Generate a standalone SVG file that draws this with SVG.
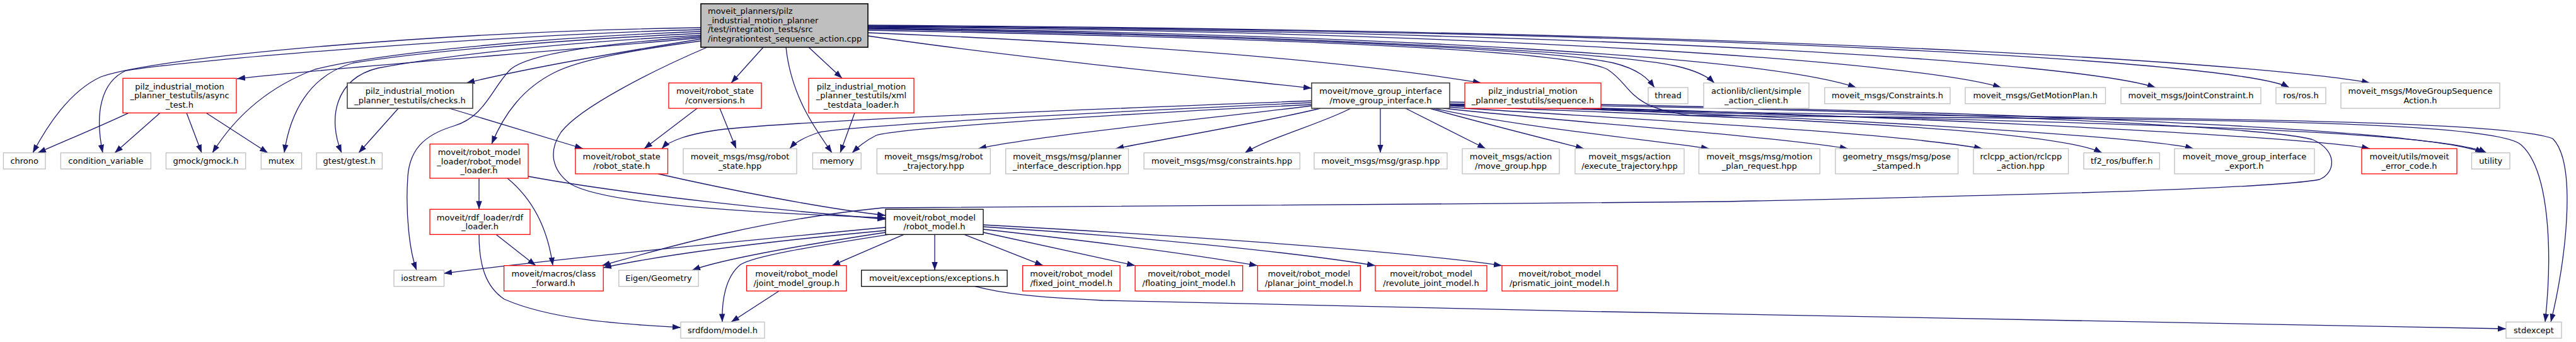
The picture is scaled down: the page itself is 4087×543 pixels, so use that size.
<svg xmlns="http://www.w3.org/2000/svg" width="4087" height="543" viewBox="0 0 4087 543">
<style>
rect{fill:#fff;stroke-width:1.3}
.k rect{stroke:#000}
.d rect{stroke:#404040;stroke-width:1.6}
.r rect{stroke:#ff0000}
.g rect{stroke:#bfbfbf}
.m rect{fill:#bfbfbf;stroke:#000;stroke-width:1.6}
text{font-family:"DejaVu Sans",sans-serif;font-size:13px;fill:#000;text-anchor:middle}
#edges path{fill:none;stroke:#191970;stroke-width:1.3;marker-end:url(#a)}
</style>
<defs>
<marker id="a" markerUnits="userSpaceOnUse" markerWidth="14" markerHeight="10" refX="13" refY="5" orient="auto"><path d="M0,0.3 L13,5 L0,9.7 z" fill="#191970" stroke="none"/></marker>
</defs>
<rect width="4087" height="543" fill="#fff" stroke="none"/>
<g id="edges">
<path d="M1112,44 C700,50 250,90 160,122 C110,145 75,200 52,242.7"/>
<path d="M1112,47 C800,55 300,95 200,112 C160,130 150,180 163,242.7"/>
<path d="M1112,60 C900,80 500,110 376,125"/>
<path d="M1112,50 C850,60 600,85 500,110 C420,140 370,190 337,242.7"/>
<path d="M1112,53 C850,65 650,85 560,100 C490,120 460,180 451,242.7"/>
<path d="M1112,56 C850,70 700,90 600,108 C530,125 520,190 542,242.7"/>
<path d="M1112,62 C1000,80 850,105 740,131.7"/>
<path d="M1112,58 C950,70 840,85 810,110 C780,140 770,185 720,200 C670,215 650,240 647,280 C643,340 650,400 661,429"/>
<path d="M1112,65 C1000,80 920,95 880,115 C830,140 800,180 780,228.7"/>
<path d="M1122,75 C1040,110 920,170 890,210 C870,240 875,270 905,292 C960,325 1200,338 1405,346"/>
<path d="M1211,75 L1160,131.7"/>
<path d="M1247,75 C1255,150 1290,200 1320,242.7"/>
<path d="M1283,75 L1336,124.3"/>
<path d="M1377,57 C1600,90 1900,120 2081,140"/>
<path d="M1377,52 C1700,65 2100,90 2350,131.7"/>
<path d="M1377,46 C1900,55 2450,75 2560,100 C2600,110 2615,125 2625,139"/>
<path d="M1377,45 C2000,55 2550,80 2660,105 C2690,112 2710,122 2720,131.7"/>
<path d="M1377,44 C2200,55 2800,90 2945,139"/>
<path d="M1377,43 C2400,50 3050,100 3175,139"/>
<path d="M1377,42 C2600,50 3300,100 3420,139"/>
<path d="M1377,41 C2800,50 3560,100 3632,139"/>
<path d="M1377,40 C3000,50 3650,110 3760,131.7"/>
<path d="M1377,48 C1900,58 2480,75 2550,110 C2590,135 2580,170 2680,183 C3300,190 3950,185 4000,230 C4045,270 4050,400 4038,511.3"/>
<path d="M204,179.3 C160,200 100,225 60,242.7"/>
<path d="M254,179.3 L182,242.7"/>
<path d="M296,179.3 L320,242.7"/>
<path d="M327,179.3 L425,242.7"/>
<path d="M632,172 L569,242.7"/>
<path d="M713,172 L925,236"/>
<path d="M1106,172 L1022,236"/>
<path d="M1142,172 L1168,236"/>
<path d="M1356,179.3 L1333,242.7"/>
<path d="M2081,160 C1700,175 1300,190 1150,205 C1090,212 1060,225 1050,236"/>
<path d="M2081,163 C1700,180 1350,200 1300,210 C1275,218 1260,228 1253,236"/>
<path d="M2081,166 C1700,185 1420,205 1390,215 C1370,225 1360,235 1352,242.7"/>
<path d="M2081,168 C1900,190 1650,215 1552,236"/>
<path d="M2095,172 C2000,195 1850,220 1770,236"/>
<path d="M2143,172 C2100,195 2010,220 1975,242.7"/>
<path d="M2190,172 L2190,242.7"/>
<path d="M2230,172 L2357,236"/>
<path d="M2268,172 C2350,195 2450,220 2513,236"/>
<path d="M2275,172 C2400,200 2600,220 2712,236"/>
<path d="M2290,172 C2500,195 2800,215 2932,236"/>
<path d="M2295,170 C2600,190 3000,210 3145,236"/>
<path d="M2298,168 C2700,185 3250,200 3335,242.7"/>
<path d="M2300,167 C2800,180 3400,215 3480,236"/>
<path d="M2300,166 C2900,178 3650,215 3760,236"/>
<path d="M2300,162 C3000,172 3850,200 3940,242.7"/>
<path d="M2300,165 C3000,172 3600,200 3670,222 C3710,240 3705,275 3680,285 C3600,300 3200,310 2740,320 C2200,326 1500,326 1400,330 C1200,350 1050,395 955,421.7"/>
<path d="M2509,172 C2900,190 3850,195 3945,242.7"/>
<path d="M2520,172 C3000,190 3950,180 4050,220 C4090,260 4070,420 4047,511.3"/>
<path d="M760,283 L760,332.3"/>
<path d="M805,283 C850,320 870,370 877,421.7"/>
<path d="M838,280 C1000,310 1250,335 1405,348"/>
<path d="M1044,276 C1150,300 1300,330 1405,342"/>
<path d="M787,372.3 L850,421.7"/>
<path d="M760,372.3 C760,420 770,455 800,475 C880,510 1000,515 1080,520"/>
<path d="M1405,361 C1150,385 850,415 704,434"/>
<path d="M1405,366 C1200,385 1050,405 957,425"/>
<path d="M1405,369 C1300,385 1150,410 1098,429"/>
<path d="M1410,372.3 C1300,390 1200,405 1175,420 C1150,440 1145,480 1146,511.3"/>
<path d="M1434,372.3 L1320,421.7"/>
<path d="M1483,372.3 L1483,429"/>
<path d="M1530,372.3 L1655,421.7"/>
<path d="M1560,369 L1801,421.7"/>
<path d="M1560,364 C1750,385 1900,405 1995,421.7"/>
<path d="M1560,360 C1800,375 2050,400 2182,421.7"/>
<path d="M1560,357 C1800,370 2200,395 2383,421.7"/>
<path d="M1236,462 L1160,511.3"/>
<path d="M1547,454.7 C1590,466 1640,472 1750,477 C2500,495 3500,515 3976,522"/>
</g>
<g id="main" class="m"><rect x="1112" y="6" width="265" height="69"/><text style="text-anchor:start"><tspan x="1123" y="22.2">moveit_planners/pilz</tspan><tspan x="1123" y="36.8">_industrial_motion_planner</tspan><tspan x="1123" y="51.4">/test/integration_tests/src</tspan><tspan x="1123" y="66">/integrationtest_sequence_action.cpp</tspan></text></g>
<g id="async_test" class="r"><rect x="195" y="124.3" width="180" height="55"/><text><tspan x="285" y="141.8">pilz_industrial_motion</tspan><tspan x="285" y="156.4">_planner_testutils/async</tspan><tspan x="285" y="171">_test.h</tspan></text></g>
<g id="checks" class="d"><rect x="551" y="131.7" width="199" height="40.3"/><text><tspan x="650.5" y="149.2">pilz_industrial_motion</tspan><tspan x="650.5" y="163.8">_planner_testutils/checks.h</tspan></text></g>
<g id="conversions" class="r"><rect x="1061" y="131.7" width="147" height="40.3"/><text><tspan x="1134.5" y="149.2">moveit/robot_state</tspan><tspan x="1134.5" y="163.8">/conversions.h</tspan></text></g>
<g id="xml_loader" class="r"><rect x="1283" y="124.3" width="167" height="55"/><text><tspan x="1366.5" y="141.8">pilz_industrial_motion</tspan><tspan x="1366.5" y="156.4">_planner_testutils/xml</tspan><tspan x="1366.5" y="171">_testdata_loader.h</tspan></text></g>
<g id="move_group_interface" class="d"><rect x="2081" y="131.7" width="219" height="40.3"/><text><tspan x="2190.5" y="149.2">moveit/move_group_interface</tspan><tspan x="2190.5" y="163.8">/move_group_interface.h</tspan></text></g>
<g id="sequence" class="r"><rect x="2324" y="131.7" width="216" height="40.3"/><text><tspan x="2432" y="149.2">pilz_industrial_motion</tspan><tspan x="2432" y="163.8">_planner_testutils/sequence.h</tspan></text></g>
<g id="thread" class="g"><rect x="2615" y="139" width="63" height="25.7"/><text x="2646.5" y="156.4">thread</text></g>
<g id="simple_action_client" class="g"><rect x="2703" y="131.7" width="167" height="40.3"/><text><tspan x="2786.5" y="149.2">actionlib/client/simple</tspan><tspan x="2786.5" y="163.8">_action_client.h</tspan></text></g>
<g id="Constraints_h" class="g"><rect x="2895" y="139" width="199" height="25.7"/><text x="2994.5" y="156.4">moveit_msgs/Constraints.h</text></g>
<g id="GetMotionPlan" class="g"><rect x="3118" y="139" width="222.5" height="25.7"/><text x="3229.2" y="156.4">moveit_msgs/GetMotionPlan.h</text></g>
<g id="JointConstraint" class="g"><rect x="3365" y="139" width="222" height="25.7"/><text x="3476" y="156.4">moveit_msgs/JointConstraint.h</text></g>
<g id="ros" class="g"><rect x="3611" y="139" width="79" height="25.7"/><text x="3650.5" y="156.4">ros/ros.h</text></g>
<g id="MoveGroupSequenceAction" class="g"><rect x="3714" y="131.7" width="252" height="40.3"/><text><tspan x="3840" y="149.2">moveit_msgs/MoveGroupSequence</tspan><tspan x="3840" y="163.8">Action.h</tspan></text></g>
<g id="chrono" class="g"><rect x="5.4" y="242.7" width="66.6" height="25.6"/><text x="38.7" y="260">chrono</text></g>
<g id="condition_variable" class="g"><rect x="96.4" y="242.7" width="143" height="25.6"/><text x="167.9" y="260">condition_variable</text></g>
<g id="gmock" class="g"><rect x="263.4" y="242.7" width="126.3" height="25.6"/><text x="326.5" y="260">gmock/gmock.h</text></g>
<g id="mutex" class="g"><rect x="414.3" y="242.7" width="64.3" height="25.6"/><text x="446.4" y="260">mutex</text></g>
<g id="gtest" class="g"><rect x="502.2" y="242.7" width="104.1" height="25.6"/><text x="554.2" y="260">gtest/gtest.h</text></g>
<g id="robot_model_loader" class="r"><rect x="682" y="228.7" width="156" height="54.3"/><text><tspan x="760" y="245.9">moveit/robot_model</tspan><tspan x="760" y="260.5">_loader/robot_model</tspan><tspan x="760" y="275.1">_loader.h</tspan></text></g>
<g id="robot_state_h" class="r"><rect x="913" y="236" width="146.5" height="40"/><text><tspan x="986.2" y="253.3">moveit/robot_state</tspan><tspan x="986.2" y="267.9">/robot_state.h</tspan></text></g>
<g id="robot_state_hpp" class="g"><rect x="1084" y="236" width="180" height="40"/><text><tspan x="1174" y="253.3">moveit_msgs/msg/robot</tspan><tspan x="1174" y="267.9">_state.hpp</tspan></text></g>
<g id="memory" class="g"><rect x="1289.4" y="242.7" width="76.8" height="25.6"/><text x="1327.8" y="260">memory</text></g>
<g id="robot_trajectory" class="g"><rect x="1391.3" y="236" width="180" height="40"/><text><tspan x="1481.3" y="253.3">moveit_msgs/msg/robot</tspan><tspan x="1481.3" y="267.9">_trajectory.hpp</tspan></text></g>
<g id="planner_interface" class="g"><rect x="1595.7" y="236" width="194.7" height="40"/><text><tspan x="1693" y="253.3">moveit_msgs/msg/planner</tspan><tspan x="1693" y="267.9">_interface_description.hpp</tspan></text></g>
<g id="constraints_hpp" class="g"><rect x="1815" y="242.7" width="247.3" height="25.6"/><text x="1938.6" y="260">moveit_msgs/msg/constraints.hpp</text></g>
<g id="grasp" class="g"><rect x="2085" y="242.7" width="211" height="25.6"/><text x="2190.5" y="260">moveit_msgs/msg/grasp.hpp</text></g>
<g id="move_group_hpp" class="g"><rect x="2320" y="236" width="154" height="40"/><text><tspan x="2397" y="253.3">moveit_msgs/action</tspan><tspan x="2397" y="267.9">/move_group.hpp</tspan></text></g>
<g id="execute_trajectory" class="g"><rect x="2499" y="236" width="173" height="40"/><text><tspan x="2585.5" y="253.3">moveit_msgs/action</tspan><tspan x="2585.5" y="267.9">/execute_trajectory.hpp</tspan></text></g>
<g id="motion_plan_request" class="g"><rect x="2695.4" y="236" width="192" height="40"/><text><tspan x="2791.4" y="253.3">moveit_msgs/msg/motion</tspan><tspan x="2791.4" y="267.9">_plan_request.hpp</tspan></text></g>
<g id="pose_stamped" class="g"><rect x="2912" y="236" width="194.6" height="40"/><text><tspan x="3009.3" y="253.3">geometry_msgs/msg/pose</tspan><tspan x="3009.3" y="267.9">_stamped.h</tspan></text></g>
<g id="rclcpp_action" class="g"><rect x="3131" y="236" width="150.6" height="40"/><text><tspan x="3206.3" y="253.3">rclcpp_action/rclcpp</tspan><tspan x="3206.3" y="267.9">_action.hpp</tspan></text></g>
<g id="tf2_buffer" class="g"><rect x="3306" y="242.7" width="120.3" height="25.6"/><text x="3366.2" y="260">tf2_ros/buffer.h</text></g>
<g id="mgi_export" class="g"><rect x="3450" y="236" width="222" height="40"/><text><tspan x="3561" y="253.3">moveit_move_group_interface</tspan><tspan x="3561" y="267.9">_export.h</tspan></text></g>
<g id="error_code" class="r"><rect x="3747" y="236" width="151" height="40"/><text><tspan x="3822.5" y="253.3">moveit/utils/moveit</tspan><tspan x="3822.5" y="267.9">_error_code.h</tspan></text></g>
<g id="utility" class="g"><rect x="3921.5" y="242.7" width="60.5" height="25.6"/><text x="3951.7" y="260">utility</text></g>
<g id="rdf_loader" class="r"><rect x="682" y="332.3" width="159" height="40"/><text><tspan x="761.5" y="349.6">moveit/rdf_loader/rdf</tspan><tspan x="761.5" y="364.2">_loader.h</tspan></text></g>
<g id="robot_model_h" class="k"><rect x="1405" y="332.3" width="155" height="40"/><text><tspan x="1482.5" y="349.6">moveit/robot_model</tspan><tspan x="1482.5" y="364.2">/robot_model.h</tspan></text></g>
<g id="iostream" class="g"><rect x="625" y="429" width="79.5" height="25.7"/><text x="664.7" y="446.4">iostream</text></g>
<g id="class_forward" class="r"><rect x="799.6" y="421.7" width="157.6" height="40.3"/><text><tspan x="878.4" y="439.2">moveit/macros/class</tspan><tspan x="878.4" y="453.8">_forward.h</tspan></text></g>
<g id="eigen" class="g"><rect x="981.8" y="429" width="126.3" height="25.7"/><text x="1045" y="446.4">Eigen/Geometry</text></g>
<g id="joint_model_group" class="r"><rect x="1184.5" y="421.7" width="158.5" height="40.3"/><text><tspan x="1263.7" y="439.2">moveit/robot_model</tspan><tspan x="1263.7" y="453.8">/joint_model_group.h</tspan></text></g>
<g id="exceptions" class="k"><rect x="1366.7" y="429" width="231.3" height="25.7"/><text x="1482.3" y="446.4">moveit/exceptions/exceptions.h</text></g>
<g id="fixed_joint" class="r"><rect x="1622.5" y="421.7" width="154.5" height="40.3"/><text><tspan x="1699.7" y="439.2">moveit/robot_model</tspan><tspan x="1699.7" y="453.8">/fixed_joint_model.h</tspan></text></g>
<g id="floating_joint" class="r"><rect x="1801" y="421.7" width="170.6" height="40.3"/><text><tspan x="1886.3" y="439.2">moveit/robot_model</tspan><tspan x="1886.3" y="453.8">/floating_joint_model.h</tspan></text></g>
<g id="planar_joint" class="r"><rect x="1995.3" y="421.7" width="163" height="40.3"/><text><tspan x="2076.8" y="439.2">moveit/robot_model</tspan><tspan x="2076.8" y="453.8">/planar_joint_model.h</tspan></text></g>
<g id="revolute_joint" class="r"><rect x="2182" y="421.7" width="177" height="40.3"/><text><tspan x="2270.5" y="439.2">moveit/robot_model</tspan><tspan x="2270.5" y="453.8">/revolute_joint_model.h</tspan></text></g>
<g id="prismatic_joint" class="r"><rect x="2383" y="421.7" width="183" height="40.3"/><text><tspan x="2474.5" y="439.2">moveit/robot_model</tspan><tspan x="2474.5" y="453.8">/prismatic_joint_model.h</tspan></text></g>
<g id="srdfdom" class="g"><rect x="1080" y="511.3" width="133" height="25.7"/><text x="1146.5" y="528.7">srdfdom/model.h</text></g>
<g id="stdexcept" class="g"><rect x="3976" y="511.3" width="88" height="25.7"/><text x="4020" y="528.7">stdexcept</text></g>
</svg>
